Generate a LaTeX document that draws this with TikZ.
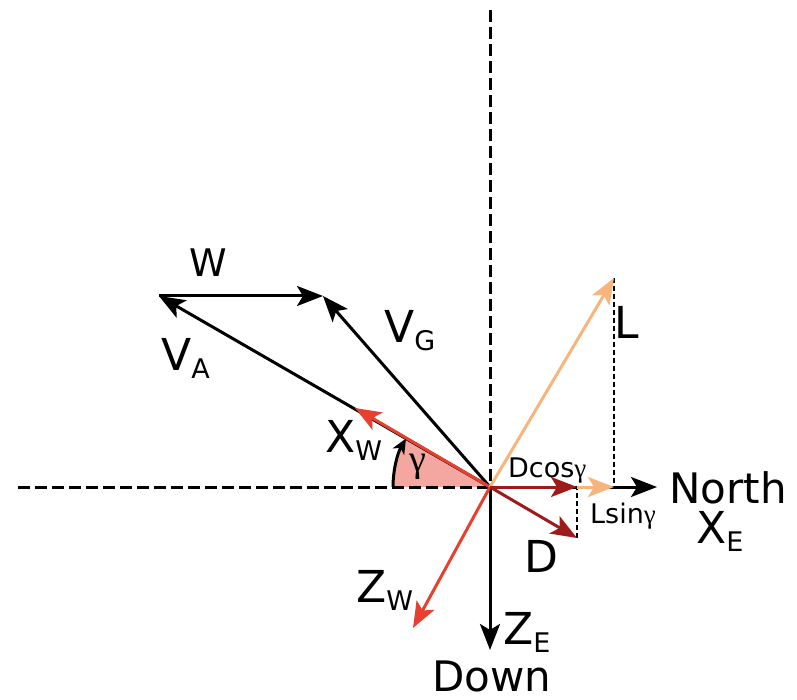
\documentclass[tikz,border=0pt]{standalone}
\usepackage{fontspec}
\setmainfont{DejaVu Sans}
\newfontfamily\grk{Liberation Serif}
\usetikzlibrary{arrows.meta}

\newcommand\lowsub[1]{\raisebox{-8pt}{\fontsize{27}{30}\selectfont #1}}

\begin{document}
\begin{tikzpicture}[
  x=1pt, y=-1pt,
  every node/.style={inner sep=0pt, anchor=base west},
  vec/.style={line width=3pt, -{Stealth[length=26pt, width=20pt, inset=6pt]}},
  axisline/.style={line width=3pt, dash pattern=on 12pt off 5pt},
  projline/.style={line width=2.8pt, dash pattern=on 5pt off 3pt},
  big/.style={font=\fontsize{44}{50}\selectfont},
  mid/.style={font=\fontsize{42}{48}\selectfont},
  small/.style={font=\fontsize{27}{30}\selectfont},
]

\definecolor{xred}{HTML}{E8402F}
\definecolor{dred}{HTML}{9E1B1B}
\definecolor{lorange}{HTML}{F7B57D}
\definecolor{wedge}{HTML}{F4A6A0}

\def\G{30}     % flight path angle
\def\R{97}     % radius of angle mark

\useasboundingbox (0,0) rectangle (797,700);

% points
\coordinate (O) at (490,487);
\coordinate (top) at (490,10);
\coordinate (west) at (18,487);
\coordinate (ze) at (490,650);
\coordinate (north) at (657,487);
\coordinate (va) at (159,296);
\coordinate (vg) at (323,296);
\coordinate (xw) at (355,408);
\coordinate (zw) at (413,628);
\coordinate (l) at (614,278);
\coordinate (lfoot) at (614,487);
\coordinate (d) at (577,538);
\coordinate (dcos) at (577,487);

% angle wedge
\fill[wedge] (O) -- ++(180:\R) arc[start angle=180, end angle={180+\G}, radius=\R] -- cycle;

% earth axes
\draw[axisline] (top) -- (O);
\draw[axisline] (west) -- (O);
\draw[vec] (O) -- (ze);
\draw[vec] (O) -- (north);

% velocity triangle
\draw[vec] (O) -- (va);
\draw[vec] (va) -- (vg);
\draw[vec] (O) -- (vg);

% wind axes
\draw[vec, xred] (O) -- (xw);
\draw[vec, xred] (O) -- (zw);

% lift and drag
\draw[projline] (l) -- (lfoot);
\draw[projline] (d) -- (dcos);
\draw[vec, lorange] (O) -- (l);
\draw[vec, dred] (O) -- (d);
\draw[vec, dred] (O) -- (dcos);
\draw[vec, lorange] (dcos) -- (lfoot);

% angle arrow
\draw[line width=3pt, -{Stealth[length=15pt, width=13pt, inset=4pt]}]
  ([shift={(180:\R)}]O) arc[start angle=180, end angle={180+\G}, radius=\R];

% labels
\node[font=\fontsize{38}{44}\selectfont] (lblw) at (189,277) {W};
\node[big] (lblva) at (161,370) {V\lowsub{A}};
\node[big] (lblvg) at (384,342) {V\lowsub{G}};
\node[big] (lblxw) at (325,452) {X\lowsub{W}};
\node[anchor=center, font=\fontsize{38}{40}\selectfont\grk] (lblg) at (418,467) {γ};
\node[small] (lbldc) at (508,477) {Dcos{\fontsize{27}{28}\selectfont\grk γ}};
\node[small] (lblls) at (590,523) {Lsin{\fontsize{27}{28}\selectfont\grk γ}};
\node[big] (lbll) at (614,338) {L};
\node[mid] (lbln) at (669,503) {North};
\node[big] (lblxe) at (696,543) {X\lowsub{E}};
\node[big] (lbld) at (524,572) {D};
\node[big] (lblzw) at (356,602) {Z\lowsub{W}};
\node[big] (lblze) at (503,644) {Z\lowsub{E}};
\node[mid] (lbldown) at (432,691) {Down};

\end{tikzpicture}
\end{document}
